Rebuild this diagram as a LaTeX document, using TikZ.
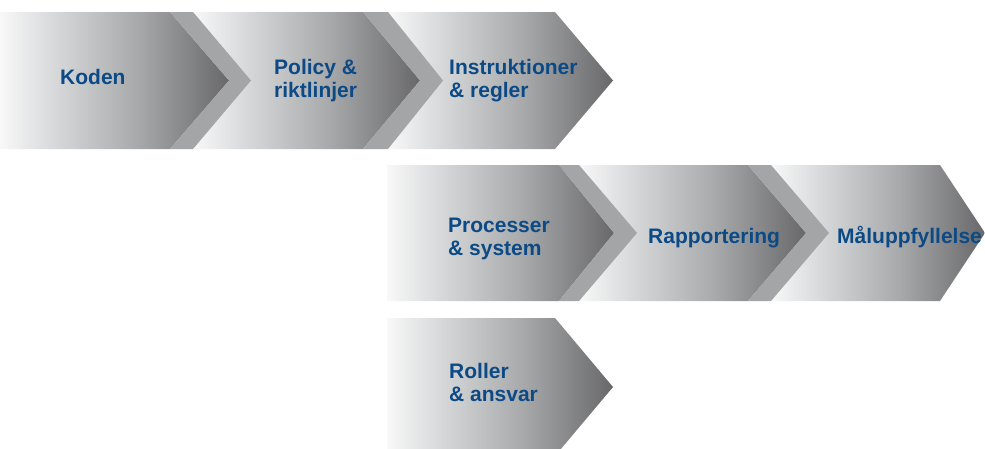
\documentclass[tikz,border=0pt]{standalone}
\usepackage{fontspec}
\setmainfont{Liberation Sans}
\definecolor{txtblue}{RGB}{12,74,134}
\definecolor{bandgray}{RGB}{164,165,167}
\definecolor{shA}{RGB}{248,248,248}
\definecolor{shB}{RGB}{220,221,223}
\definecolor{shC}{RGB}{168,169,171}
\definecolor{shD}{RGB}{104,104,106}
\pgfdeclarehorizontalshading{chevshade}{100bp}{color(0bp)=(shA); color(25bp)=(shA); color(35bp)=(shB); color(55bp)=(shC); color(75bp)=(shD); color(100bp)=(shD)}
\newcommand\mychev[5]{\shade[chev] (#1,#4) -- (#2,#4) -- (#3,{(#4+#5)/2}) -- (#2,#5) -- (#1,#5) -- cycle;}
\newcommand\myband[6]{\fill[band] (#1,#5) -- (#2,#5) -- (#4,{(#5+#6)/2}) -- (#2,#6) -- (#1,#6) -- (#3,{(#5+#6)/2}) -- cycle;}
\tikzset{
  chev/.style={shading=chevshade, draw=none},
  band/.style={fill=bandgray, draw=none},
  lbl/.style={font=\bfseries\fontsize{21}{23}\selectfont, text=txtblue, align=left, inner sep=0pt, anchor=base west}
}
\begin{document}
\begin{tikzpicture}[x=1pt,y=-1pt]
\useasboundingbox (0,0) rectangle (985,448);
\clip (0,0) rectangle (985,448);
% row 1 (right to left, so each tip lies over the next chevron)
\mychev{388}{555}{613}{12}{149}
\mychev{193}{363}{420}{12}{149}
\mychev{0}{170}{229}{12}{149}
\myband{170}{193}{229}{251}{12}{149}
\myband{363}{388}{420}{443}{12}{149}
% row 2
\mychev{771}{940}{985}{165}{301}
\mychev{579}{748}{806}{165}{301}
\mychev{387}{559}{614}{165}{301}
\myband{559}{579}{614}{637}{165}{301}
\myband{748}{771}{806}{829}{165}{301}
% row 3
\mychev{387}{555}{613}{318}{456}
% labels (base = last line)
\node[lbl] (koden) at (60,84) {Koden};
\node[lbl] (policy) at (274,97.5) {Policy \&\\riktlinjer};
\node[lbl] (instr) at (449,97.5) {Instruktioner\\\& regler};
\node[lbl] (proc) at (448,255) {Processer\\\& system};
\node[lbl] (rapp) at (648,243) {Rapportering};
\node[lbl] (malu) at (837,243) {Måluppfyllelse};
\node[lbl] (roller) at (449,401) {Roller\\\& ansvar};
\end{tikzpicture}
\end{document}
